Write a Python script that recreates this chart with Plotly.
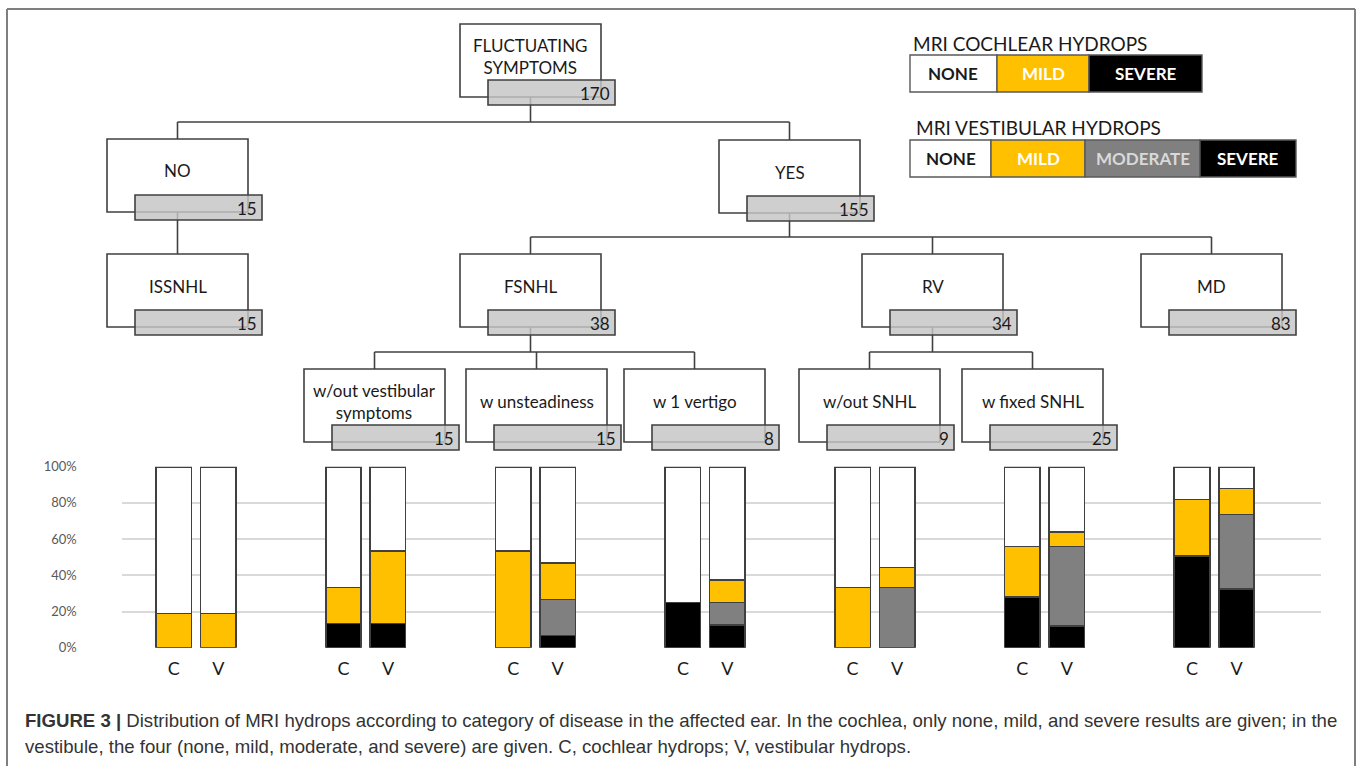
import plotly.graph_objects as go

# ---------------- data ----------------
groups = ["ISSNHL", "w/out vestibular symptoms", "w unsteadiness", "w 1 vertigo",
          "w/out SNHL", "w fixed SNHL", "MD"]
coch_severe = [0, 13.3, 0, 25.0, 0, 28.0, 50.6]
coch_mild = [19.0, 20.0, 53.3, 0, 33.3, 28.0, 31.3]
vest_severe = [0, 13.3, 6.7, 12.5, 0, 12.0, 32.5]
vest_moderate = [0, 0, 20.0, 12.5, 33.3, 44.0, 41.0]
vest_mild = [19.0, 40.0, 20.0, 12.5, 11.1, 8.0, 14.5]
coch_none = [100 - a - b for a, b in zip(coch_severe, coch_mild)]
vest_none = [100 - a - b - c for a, b, c in zip(vest_severe, vest_moderate, vest_mild)]

y_ticks = [0, 20, 40, 60, 80, 100]
y_tick_text = [f"{v}%" for v in y_ticks]

node_labels = ["FLUCTUATING<br>SYMPTOMS", "NO", "YES", "ISSNHL", "FSNHL", "RV", "MD",
               "w/out vestibular<br>symptoms", "w unsteadiness", "w 1 vertigo",
               "w/out SNHL", "w fixed SNHL"]
node_counts = [170, 15, 155, 15, 38, 34, 83, 15, 15, 8, 9, 25]
tree_edges = {0: [1, 2], 1: [3], 2: [4, 5, 6], 4: [7, 8, 9], 5: [10, 11]}

coch_levels = ["NONE", "MILD", "SEVERE"]
vest_levels = ["NONE", "MILD", "MODERATE", "SEVERE"]
caption_bold = "FIGURE 3 |"
caption_line1 = (" Distribution of MRI hydrops according to category of disease in the affected ear. "
                 "In the cochlea, only none, mild, and severe results are given; in the")
caption_line2 = ("vestibule, the four (none, mild, moderate, and severe) are given. "
                 "C, cochlear hydrops; V, vestibular hydrops.")

# ---------------- layout / style ----------------
W, H = 1362, 766
def X(px): return px / W
def Y(py): return 1 - py / H

YELLOW = "#FFC000"
MODGRAY = "#808080"
LINE = "#404040"
TEXT = "#1a1a1a"
TREE_FONT = "Lato, Open Sans, sans-serif"

node_pos = [(460, 24), (107, 139), (719, 140), (107, 254), (460, 254), (862, 254), (1141, 254),
            (304, 369), (466, 369), (624, 369), (799, 369), (962, 369)]
BOX_W, BOX_H = 141, 73
G_DX, G_DY, G_W, G_H = 28, 56, 127, 25
bar_levels = {0: 122, 2: 237, 4: 352, 5: 352}

shapes = []
annotations = []

def line(x0, y0, x1, y1, color=LINE, width=1.6):
    shapes.append(dict(type="line", xref="paper", yref="paper", x0=X(x0), y0=Y(y0),
                       x1=X(x1), y1=Y(y1), line=dict(color=color, width=width)))

def rect(x0, y0, x1, y1, fill, color=LINE, width=1.6, layer="above"):
    shapes.append(dict(type="rect", xref="paper", yref="paper", x0=X(x0), y0=Y(y0),
                       x1=X(x1), y1=Y(y1), fillcolor=fill, layer=layer,
                       line=dict(color=color, width=width)))

def text(x, y, s, size=17, color=TEXT, xanchor="center", font=TREE_FONT, bold=False):
    annotations.append(dict(x=X(x), y=Y(y), xref="paper", yref="paper", text=(f"<b>{s}</b>" if bold else s),
                            showarrow=False, xanchor=xanchor, yanchor="middle",
                            font=dict(size=size, color=color, family=font)))

# outer frame
line(7, 9, 1355, 9, color="#7f7f7f", width=2)
line(7, 9, 7, 766, color="#7f7f7f", width=2)
line(1355, 9, 1355, 766, color="#7f7f7f", width=2)

# white boxes
for (x0, y0) in node_pos:
    rect(x0, y0, x0 + BOX_W, y0 + BOX_H, "white")

# connectors
for p, kids in tree_edges.items():
    px0, py0 = node_pos[p]
    pcx = px0 + BOX_W / 2
    pbot = py0 + BOX_H
    if len(kids) == 1:
        kx, ky = node_pos[kids[0]]
        line(pcx, pbot, pcx, ky)
        continue
    by = bar_levels[p]
    line(pcx, pbot, pcx, by)
    cxs = [node_pos[k][0] + BOX_W / 2 for k in kids]
    line(min(cxs + [pcx]), by, max(cxs + [pcx]), by)
    for k, cx in zip(kids, cxs):
        line(cx, by, cx, node_pos[k][1])

# gray count boxes (semi-transparent so lines show through)
for (x0, y0), n in zip(node_pos, node_counts):
    gx0, gy0 = x0 + G_DX, y0 + G_DY
    rect(gx0, gy0, gx0 + G_W, gy0 + G_H, "rgba(196,196,196,0.82)")
    text(gx0 + G_W - 3, gy0 + G_H / 2 + 1, str(n), size=17, xanchor="right")

# node labels
for (x0, y0), lab in zip(node_pos, node_labels):
    text(x0 + BOX_W / 2, y0 + 32, lab, size=17)

# legends
text(911, 44, "MRI COCHLEAR HYDROPS", size=19, xanchor="left")
coch_edges = [910, 997, 1089, 1202]
coch_fill = ["white", YELLOW, "black"]
coch_txt = [TEXT, "white", "white"]
for i, lev in enumerate(coch_levels):
    rect(coch_edges[i], 55, coch_edges[i + 1], 92, coch_fill[i], color="#595959", width=1.4)
    text((coch_edges[i] + coch_edges[i + 1]) / 2, 73.5, lev, size=17, color=coch_txt[i], bold=True)

text(914, 128, "MRI VESTIBULAR HYDROPS", size=19, xanchor="left")
vest_edges = [910, 991, 1085, 1200, 1296]
vest_fill = ["white", YELLOW, MODGRAY, "black"]
vest_txt = [TEXT, "white", "#d9d9d9", "white"]
for i, lev in enumerate(vest_levels):
    rect(vest_edges[i], 140, vest_edges[i + 1], 177, vest_fill[i], color="#595959", width=1.4)
    text((vest_edges[i] + vest_edges[i + 1]) / 2, 158, lev, size=17, color=vest_txt[i], bold=True)

# caption
CAP_FONT = "Liberation Sans, Arial, sans-serif"
annotations.append(dict(x=X(23), y=Y(720), xref="paper", yref="paper", showarrow=False,
                        xanchor="left", yanchor="middle",
                        text=f"<b>{caption_bold}</b>{caption_line1}",
                        font=dict(size=18.6, color="#333333", family=CAP_FONT)))
annotations.append(dict(x=X(23), y=Y(746), xref="paper", yref="paper", showarrow=False,
                        xanchor="left", yanchor="middle", text=caption_line2,
                        font=dict(size=18.6, color="#333333", family=CAP_FONT)))

# ---------------- bars ----------------
gi = list(range(len(groups)))
OFF, BW = 0.131, 0.209
xc = [g - OFF for g in gi]
xv = [g + OFF for g in gi]
bar_line = dict(color=LINE, width=1.6)

fig = go.Figure()
for name, vals, col in [("Cochlear severe", coch_severe, "black"),
                        ("Cochlear mild", coch_mild, YELLOW),
                        ("Cochlear none", coch_none, "white")]:
    fig.add_trace(go.Bar(x=xc, y=vals, width=BW, name=name, marker=dict(color=col, line=bar_line)))
for name, vals, col in [("Vestibular severe", vest_severe, "black"),
                        ("Vestibular moderate", vest_moderate, MODGRAY),
                        ("Vestibular mild", vest_mild, YELLOW),
                        ("Vestibular none", vest_none, "white")]:
    fig.add_trace(go.Bar(x=xv, y=vals, width=BW, name=name, marker=dict(color=col, line=bar_line)))

fig.update_layout(
    template="none",
    width=W, height=H, autosize=False,
    margin=dict(l=0, r=0, t=0, b=0, pad=0, autoexpand=False),
    paper_bgcolor="white", plot_bgcolor="white",
    barmode="stack", showlegend=False,
    shapes=shapes, annotations=annotations,
    xaxis=dict(domain=[X(121.7), X(1321)], range=[-0.438, 6.629], automargin=False,
               tickmode="array", tickvals=xc + xv, ticktext=["C"] * len(xc) + ["V"] * len(xv),
               tickfont=dict(size=18, color=TEXT, family=TREE_FONT),
               showgrid=False, zeroline=False, showline=False, ticks="",
               ticklabelstandoff=8),
    yaxis=dict(domain=[Y(647.7), Y(466.7)], range=[0, 100], automargin=False,
               tickmode="array", tickvals=y_ticks, ticktext=y_tick_text,
               tickfont=dict(size=13, color="#595959", family=TREE_FONT),
               showgrid=True, gridcolor="#d9d9d9", gridwidth=1.5,
               zeroline=False, showline=False, ticks="", ticklabelstandoff=44),
)

fig.write_html("out.html", config={"displayModeBar": False},
               post_script="document.body.style.margin='0px';")
